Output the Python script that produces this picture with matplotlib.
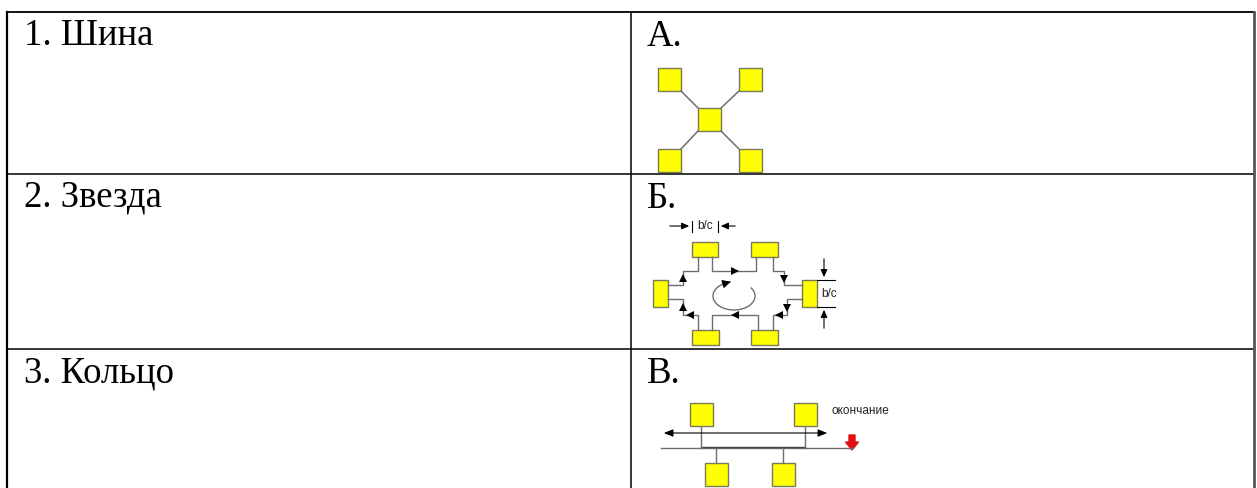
import numpy as np
import matplotlib.pyplot as plt
from matplotlib.patches import Rectangle, FancyArrow

# ---------- данные таблицы ----------
left_labels = ["1. Шина", "2. Звезда", "3. Кольцо"]
right_labels = ["А.", "Б.", "В."]
row_lines = [12, 174, 349]          # верх строк (px)
col_x = [7, 631, 1254]              # левая, средняя, правая границы

# ---------- схема А (звезда) ----------
star_nodes = [(658, 68), (739, 68), (698, 108), (658, 149), (739, 149)]
star_size = 23
star_links = [((681, 91), (698, 108)), ((739, 91), (721, 108)),
              ((698, 131), (681, 149)), ((721, 131), (739, 149))]

# ---------- схема Б (кольцо) ----------
ring_boxes = [(692, 242, 26, 15), (751, 242, 27, 15),
              (653, 280, 15, 27), (802, 280, 15, 27),
              (692, 330, 27, 15), (751, 330, 27, 15)]
ring_paths = [
    [(698, 257), (698, 271), (683, 271), (683, 285), (668, 285)],
    [(712, 257), (712, 271), (756, 271), (756, 257)],
    [(773, 257), (773, 271), (784, 271), (784, 285), (802, 285)],
    [(802, 299), (787, 299), (787, 315), (773, 315), (773, 330)],
    [(758, 330), (758, 315), (712, 315), (712, 330)],
    [(698, 330), (698, 315), (683, 315), (683, 299), (668, 299)],
]
ring_heads = [(683, 278, "^"), (735, 271, ">"), (784, 279, "v"),
              (787, 308, "v"), (779, 315, "<"), (735, 315, "<"),
              (690, 315, "<"), (683, 307, "^")]

# ---------- схема В (шина) ----------
bus_nodes = [(690, 403), (794, 403), (705, 463), (772, 463)]
bus_size = 23
bus_y = 448
bus_x = (661, 853)
arrow_y = 433
arrow_x = (661, 830)
drops = [(701, 427, 448), (805, 427, 448), (716, 448, 463), (783, 448, 463)]

YELLOW = "#FFFF00"
EDGE = "#7a7a5a"
GREY = "#6e6e6e"

fig = plt.figure(figsize=(12.57, 4.88), dpi=100)
ax = fig.add_axes([0, 0, 1, 1])
ax.set_xlim(0, 1257)
ax.set_ylim(488, 0)
ax.axis("off")

# рамка таблицы
ax.plot([col_x[0], col_x[2]], [row_lines[0]] * 2, color="black", lw=1.3)
for y in row_lines[1:]:
    ax.plot([col_x[0], col_x[2]], [y, y], color="black", lw=1.1)
ax.plot([col_x[0]] * 2, [row_lines[0], 488], color="black", lw=1.6)
ax.plot([col_x[1]] * 2, [row_lines[0], 488], color="black", lw=1.1)
ax.plot([col_x[2]] * 2, [row_lines[0], 488], color="#555555", lw=2.0)

serif = ["Liberation Serif", "DejaVu Serif"]
for i, y in enumerate(row_lines):
    ax.text(24, y + 33, left_labels[i], fontsize=26.5, family=serif, va="baseline", ha="left")
    ax.text(647, y + 34, right_labels[i], fontsize=26.5, family=serif, va="baseline", ha="left")

# --- А ---
for (a, b) in star_links:
    ax.plot([a[0], b[0]], [a[1], b[1]], color=GREY, lw=1.1)
for (x, y) in star_nodes:
    ax.add_patch(Rectangle((x, y), star_size, star_size, facecolor=YELLOW, edgecolor=EDGE, lw=1.0))

# --- Б ---
for path in ring_paths:
    xs, ys = zip(*path)
    ax.plot(xs, ys, color=GREY, lw=1.0)
for (x, y, m) in ring_heads:
    ax.plot(x, y, marker=m, color="black", markersize=6, mew=0)
for (x, y, w, h) in ring_boxes:
    ax.add_patch(Rectangle((x, y), w, h, facecolor=YELLOW, edgecolor=EDGE, lw=1.0))

# круговая стрелка
t = np.deg2rad(np.linspace(-35, 250, 120))
cx, cy, rx, ry = 734, 296, 21, 14
ax.plot(cx + rx * np.cos(t), cy + ry * np.sin(t), color=GREY, lw=1.0)
te = np.deg2rad(250)
ex, ey = cx + rx * np.cos(te), cy + ry * np.sin(te)
ax.annotate("", xy=(ex + 4, ey - 1.2), xytext=(ex, ey),
            arrowprops=dict(arrowstyle="-|>,head_length=0.5,head_width=0.25", color="black", lw=0.8))

# размер b/c сверху
sans = ["Liberation Sans", "DejaVu Sans"]
head = "-|>,head_length=0.45,head_width=0.2"
ax.plot([692, 692], [221, 232], color="black", lw=0.8)
ax.plot([718, 718], [221, 232], color="black", lw=0.8)
ax.annotate("", xy=(692, 226), xytext=(667, 226),
            arrowprops=dict(arrowstyle=head, color="black", lw=0.8))
ax.annotate("", xy=(718, 226), xytext=(738, 226),
            arrowprops=dict(arrowstyle=head, color="black", lw=0.8))
ax.text(705, 226, "b/c", fontsize=8.5, family=sans, ha="center", va="center", color="#222222")

# размер b/c справа
ax.plot([817, 835], [280, 280], color="black", lw=0.8)
ax.plot([817, 835], [307, 307], color="black", lw=0.8)
ax.annotate("", xy=(824, 280), xytext=(824, 256),
            arrowprops=dict(arrowstyle=head, color="black", lw=0.8))
ax.annotate("", xy=(824, 307), xytext=(824, 331),
            arrowprops=dict(arrowstyle=head, color="black", lw=0.8))
ax.text(821, 294, "b/c", fontsize=8.5, family=sans, ha="left", va="center", color="#222222")

# --- В ---
ax.plot(bus_x, [bus_y, bus_y], color=GREY, lw=1.0)
ax.plot([701, 805], [bus_y - 1, bus_y - 1], color="#444444", lw=1.0)
for (x, y0, y1) in drops:
    ax.plot([x, x], [y0, y1], color=GREY, lw=1.0)
ax.annotate("", xy=(arrow_x[0], arrow_y), xytext=(arrow_x[1], arrow_y),
            arrowprops=dict(arrowstyle="<|-|>,head_length=0.55,head_width=0.22", color="black", lw=0.8))
for (x, y) in bus_nodes:
    ax.add_patch(Rectangle((x, y), bus_size, bus_size, facecolor=YELLOW, edgecolor=EDGE, lw=1.0))
ax.add_patch(FancyArrow(852, 435, 0, 7, width=6, head_width=13, head_length=8,
                        length_includes_head=False, color="#e01010"))
ax.text(831, 411, "окончание", fontsize=8.5, family=sans, ha="left", va="center", color="#222222")

fig.savefig("out.png", dpi=100)
